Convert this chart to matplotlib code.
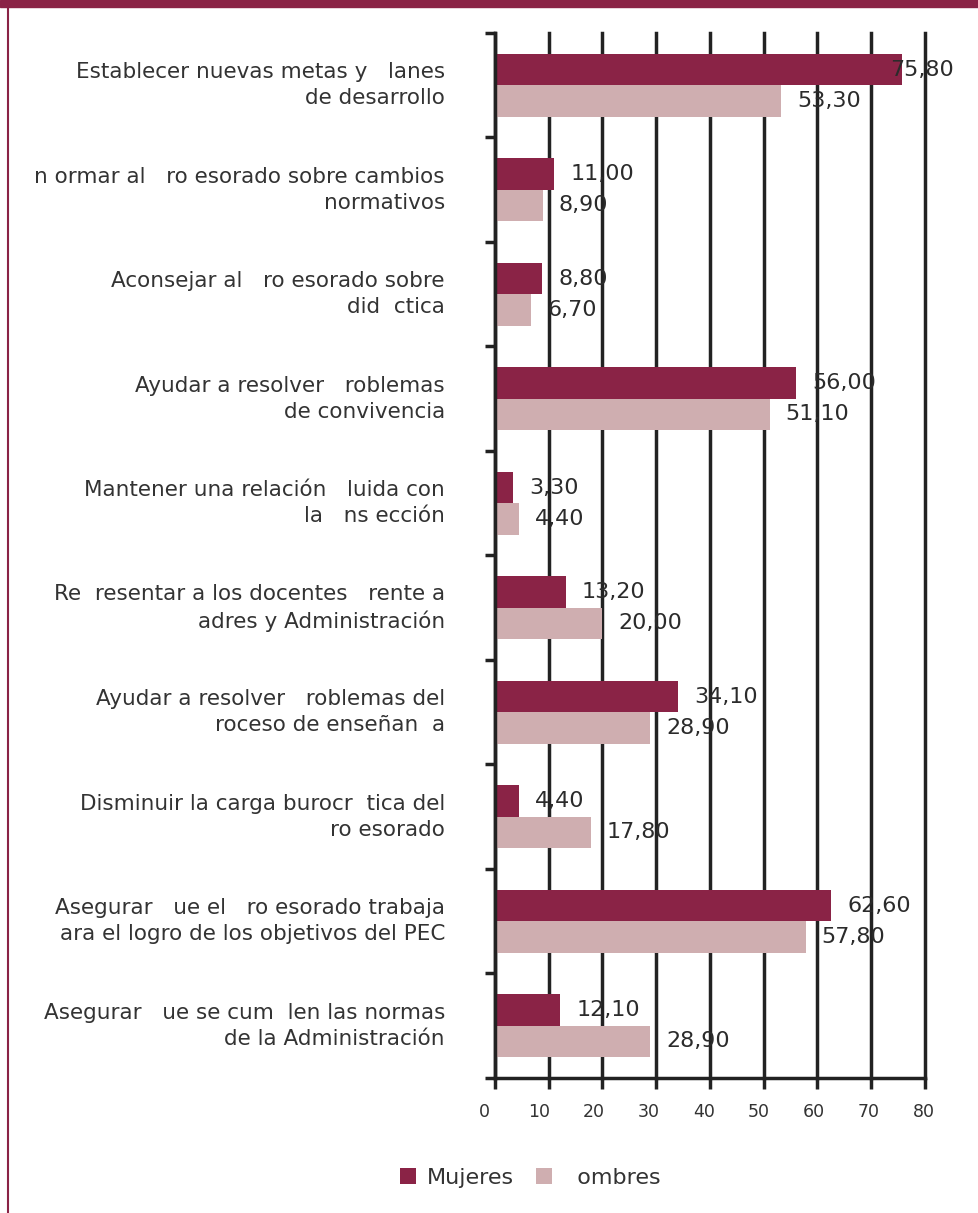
import matplotlib
matplotlib.use("Agg")
import matplotlib.pyplot as plt
import numpy as np
from matplotlib.patches import Rectangle
from matplotlib.lines import Line2D

plt.rcParams['font.family'] = ['DejaVu Sans']

# categories as they appear in the picture (some glyphs are missing there)
categorias = [
    "Establecer nuevas metas y   lanes\nde desarrollo",
    "n ormar al   ro esorado sobre cambios\nnormativos",
    "Aconsejar al   ro esorado sobre\ndid  ctica",
    "Ayudar a resolver   roblemas\nde convivencia",
    "Mantener una relación   luida con\nla   ns ección",
    "Re  resentar a los docentes   rente a\nadres y Administración",
    "Ayudar a resolver   roblemas del\nroceso de enseñan  a",
    "Disminuir la carga burocr  tica del\nro esorado",
    "Asegurar   ue el   ro esorado trabaja\nara el logro de los objetivos del PEC",
    "Asegurar   ue se cum  len las normas\nde la Administración",
]
mujeres = [75.8, 11.0, 8.8, 56.0, 3.3, 13.2, 34.1, 4.4, 62.6, 12.1]
hombres = [53.3, 8.9, 6.7, 51.1, 4.4, 20.0, 28.9, 17.8, 57.8, 28.9]
serie_nombres = ["Mujeres", "  ombres"]
x_ticks = [0, 10, 20, 30, 40, 50, 60, 70, 80]

c_muj = "#8a2346"
c_hom = "#cfaeb0"
c_txt = "#333333"

fig = plt.figure(figsize=(9.79, 12.13), dpi=100)
ax = fig.add_axes([0.5056, 0.1113, 0.4392, 0.8615])

y = np.arange(len(categorias))
h = 0.30
ax.barh(y - h / 2, mujeres, height=h, color=c_muj, label=serie_nombres[0], zorder=2)
ax.barh(y + h / 2, hombres, height=h, color=c_hom, label=serie_nombres[1], zorder=2)

ax.set_xlim(0, 80)
ax.set_ylim(len(categorias) - 0.5, -0.5)

# value labels, decimal comma
for i, (m, w) in enumerate(zip(mujeres, hombres)):
    for v, yy in ((m, i - h / 2), (w, i + h / 2)):
        xt = min(v + 3.0, 73.5)
        ax.text(xt, yy, f"{v:.2f}".replace(".", ","), va="center", ha="left",
                fontsize=16, color="#2b2b2b", zorder=3)

# category labels
for i, lab in enumerate(categorias):
    ax.text(-9.3, i, lab, ha="right", va="center", multialignment="right",
            fontsize=15.5, color=c_txt, linespacing=1.35)

# y ticks at category boundaries
ax.set_yticks(np.arange(-0.5, len(categorias) + 0.5, 1.0))
ax.set_yticklabels([])
ax.tick_params(axis="y", direction="out", length=7, width=2.5, color="#222222")

# x ticks; the labels in the original sit on a slightly wider spacing than the ticks
ax.set_xticks(x_ticks)
ax.set_xticklabels([])
ax.tick_params(axis="x", direction="out", length=8, width=2.5, color="#222222")
for t in x_ticks:
    ax.text(-2.05 + t * 1.023, -0.0325, str(t), transform=ax.get_xaxis_transform(),
            ha="center", va="center", fontsize=12.5, color=c_txt)

ax.grid(axis="x", color="#222222", linewidth=2.5)
ax.grid(axis="y", visible=False)
ax.set_axisbelow(True)
for gl in ax.get_xgridlines():
    gl.set_clip_on(False)

for s in ["top", "right"]:
    ax.spines[s].set_visible(False)
for s in ["left", "bottom"]:
    ax.spines[s].set_linewidth(2.5)
    ax.spines[s].set_color("#222222")

leg = fig.legend(loc="center", bbox_to_anchor=(0.542, 0.029), ncol=2, frameon=False,
                 fontsize=16, handlelength=0.7, handleheight=0.7, handletextpad=0.5,
                 columnspacing=1.0)
for t in leg.get_texts():
    t.set_color(c_txt)

# frame decorations: top band and left line
fig.add_artist(Rectangle((0, 1 - 7 / 1213), 1, 7 / 1213, transform=fig.transFigure,
                         color=c_muj, zorder=5))
fig.add_artist(Line2D([8 / 979, 8 / 979], [0, 1], transform=fig.transFigure,
                      color=c_muj, linewidth=1.5, zorder=5))

fig.savefig("out.png", dpi=100)
